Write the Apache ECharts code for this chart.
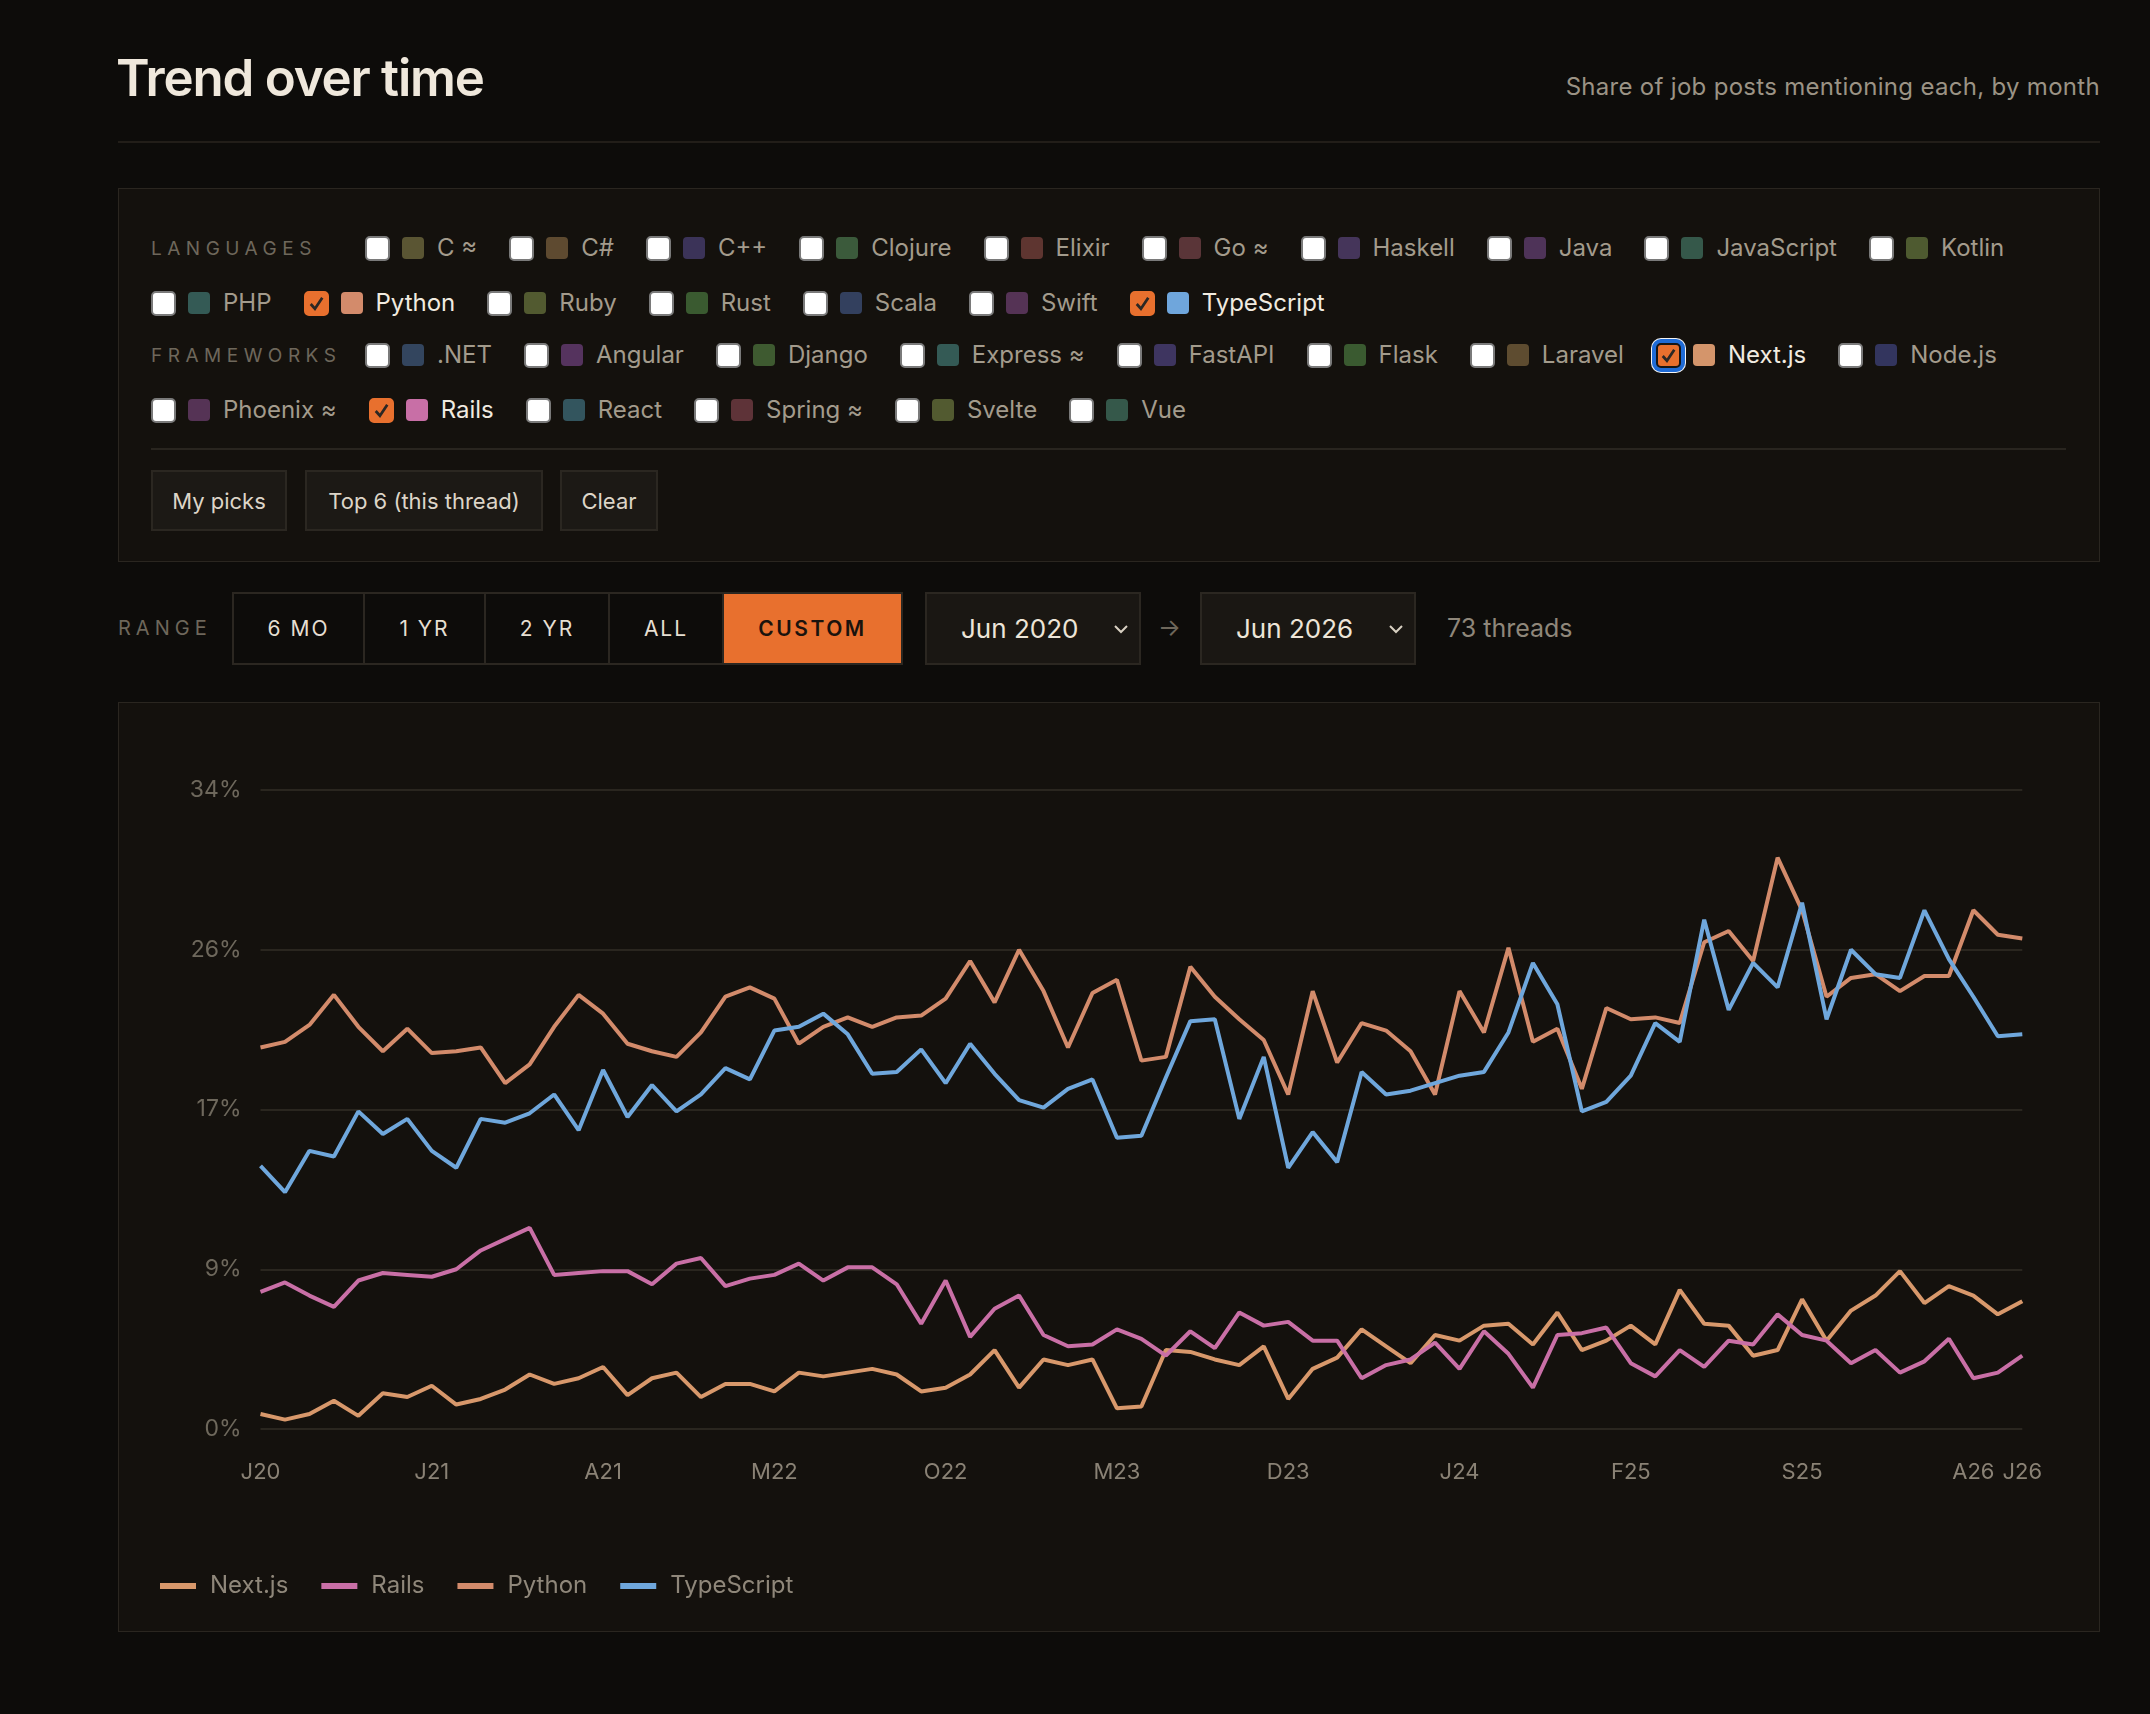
<!DOCTYPE html>
<html>
<head>
<meta charset="utf-8">
<title>Trend over time</title>
<script src="https://cdn.jsdelivr.net/npm/echarts@6/dist/echarts.min.js"></script>
<style>
  html, body { margin: 0; padding: 0; }
  body {
    width: 2150px; height: 1714px; position: relative; overflow: hidden;
    background: #0d0c0a; color: #a39b8c;
    font-family: Inter, 'Noto Sans', sans-serif;
  }
  .title { position: absolute; left: 116px; top: 46px; line-height: 64px; font-size: 51px; font-weight: 600; letter-spacing: -1.2px; color: #efe8dc; }
  .subtitle { position: absolute; right: 50px; top: 72px; line-height: 30px; font-size: 24px; letter-spacing: 0.3px; color: #9b9385; }
  .hr { position: absolute; left: 118px; top: 141px; width: 1982px; height: 2px; background: #221e19; }

  .panel { position: absolute; left: 118px; width: 1982px; box-sizing: border-box; background: #14110d; border: 1px solid #2a2620; }
  .filters { top: 188px; height: 374px; }
  .row { position: absolute; left: 32px; height: 40px; display: flex; align-items: center; white-space: nowrap; }
  .glabel { width: 214px; font-size: 19px; letter-spacing: 5.5px; color: #6e675b; }
  .item { display: flex; align-items: center; margin-right: 32px; }
  .item input {
    -webkit-appearance: none; appearance: none; width: 25px; height: 25px; margin: 0; box-sizing: border-box;
    background: #fff; border: 2px solid #7a7a7a; border-radius: 5px;
  }
  .item input:checked {
    background: #e8702e url("data:image/svg+xml,%3Csvg xmlns='http://www.w3.org/2000/svg' viewBox='0 0 20 20'%3E%3Cpolyline points='4.5,10.5 8.5,15 15.5,4.5' fill='none' stroke='%232b2724' stroke-width='2.6'/%3E%3C/svg%3E") center/100% no-repeat;
    border-color: #e8702e;
  }
  .item .sw { width: 22px; height: 22px; border-radius: 4px; margin-left: 12px; margin-right: 13px; }
  .item .txt { font-size: 24px; line-height: 40px; color: #a39b8c; }
  .item.on .txt { color: #f1ebe0; }
  .item.focus input { border: 2px solid #161616; box-shadow: 0 0 0 4px #1f6bd6, 0 0 0 5px #f4f4f4; }
  .divider { position: absolute; left: 32px; top: 259px; width: 1915px; height: 2px; background: #29251f; }
  .btns { position: absolute; left: 32px; top: 281px; display: flex; }
  .btn { height: 61px; box-sizing: border-box; border: 2px solid #2b2721; background: #1c1915; color: #ddd5c8;
         font-size: 22px; display: flex; align-items: center; justify-content: center; margin-right: 18px; }

  .range-label { position: absolute; left: 118px; top: 613px; line-height: 30px; font-size: 20px; letter-spacing: 5px; color: #6e675b; }
  .seg { position: absolute; left: 232px; top: 592px; height: 73px; display: flex; box-sizing: border-box; border: 2px solid #2b2721; }
  .seg div { display: flex; align-items: center; justify-content: center; font-size: 21px; letter-spacing: 2px; color: #e6dfd2; border-right: 2px solid #2b2721; box-sizing: border-box; }
  .seg div:last-child { border-right: none; }
  .seg .active { background: #e8702e; color: #1a130d; font-weight: 600; letter-spacing: 2.5px; }
  .dd { position: absolute; top: 592px; height: 73px; box-sizing: border-box; border: 2px solid #2b2721; background: #1a1713;
        display: flex; align-items: center; padding-left: 34px; font-size: 26px; color: #ede5d8; }
  .dd svg { position: absolute; right: 10px; top: 30px; }
  .arrow { position: absolute; left: 1158px; top: 612px; font-size: 24px; line-height: 32px; color: #6e675b; }
  .threads { position: absolute; left: 1447px; top: 612px; font-size: 25px; line-height: 32px; color: #8f877a; }

  .chartbox { top: 702px; height: 930px; }
  #chart { position: absolute; left: 0; top: 0; width: 1980px; height: 928px; }
</style>
</head>
<body>
<div class="title">Trend over time</div>
<div class="subtitle">Share of job posts mentioning each, by month</div>
<div class="hr"></div>

<div class="panel filters">
  <div class="row" id="row1" style="top:39px"><div class="glabel">LANGUAGES</div></div>
  <div class="row" id="row2" style="top:94px"></div>
  <div class="row" id="row3" style="top:146px"><div class="glabel">FRAMEWORKS</div></div>
  <div class="row" id="row4" style="top:201px"></div>
  <div class="divider"></div>
  <div class="btns">
    <div class="btn" style="width:136px">My picks</div>
    <div class="btn" style="width:238px;margin-right:17px">Top 6 (this thread)</div>
    <div class="btn" style="width:98px">Clear</div>
  </div>
</div>

<div class="range-label">RANGE</div>
<div class="seg">
  <div style="width:131px">6 MO</div>
  <div style="width:121px">1 YR</div>
  <div style="width:124px">2 YR</div>
  <div style="width:114px">ALL</div>
  <div class="active" style="width:177px">CUSTOM</div>
</div>
<div class="dd" style="left:925px;width:216px">Jun 2020<svg width="16" height="10" viewBox="0 0 16 10"><polyline points="2,2 8,8 14,2" fill="none" stroke="#d8d0c2" stroke-width="2"/></svg></div>
<div class="arrow">→</div>
<div class="dd" style="left:1200px;width:216px">Jun 2026<svg width="16" height="10" viewBox="0 0 16 10"><polyline points="2,2 8,8 14,2" fill="none" stroke="#d8d0c2" stroke-width="2"/></svg></div>
<div class="threads">73 threads</div>

<div class="panel chartbox"><div id="chart"></div></div>

<script>
// picker rows: [name, swatch colour, checked, focused]
const languagesRow1 = [['C ≈', '#5a5533'], ['C#', '#5e4a30'], ['C++', '#3b3358'], ['Clojure', '#3b5a3b'], ['Elixir', '#5e3530'],
  ['Go ≈', '#5a3538'], ['Haskell', '#45355a'], ['Java', '#4e3358'], ['JavaScript', '#35584a'], ['Kotlin', '#4e5a30']];
const languagesRow2 = [['PHP', '#345a55'], ['Python', '#d38b6b', true], ['Ruby', '#525a30'], ['Rust', '#3a5a30'],
  ['Scala', '#33405e'], ['Swift', '#553355'], ['TypeScript', '#6fa6dc', true]];
const frameworksRow1 = [['.NET', '#33455e'], ['Angular', '#55335e'], ['Django', '#3e5a30'], ['Express ≈', '#345a55'],
  ['FastAPI', '#3e3560'], ['Flask', '#3a5a30'], ['Laravel', '#5e4c30'], ['Next.js', '#d4956b', true, true], ['Node.js', '#33355e']];
const frameworksRow2 = [['Phoenix ≈', '#553355'], ['Rails', '#c86fa6', true], ['React', '#33555e'], ['Spring ≈', '#5e3338'],
  ['Svelte', '#525a30'], ['Vue', '#35584a']];

function fillRow(id, items) {
  const row = document.getElementById(id);
  items.forEach(([name, col, on, focus]) => {
    const el = document.createElement('label');
    el.className = 'item' + (on ? ' on' : '') + (focus ? ' focus' : '');
    el.innerHTML = '<input type="checkbox"' + (on ? ' checked' : '') + '><span class="sw" style="background:' + col +
      '"></span><span class="txt">' + name + '</span>';
    row.appendChild(el);
  });
}
fillRow('row1', languagesRow1);
fillRow('row2', languagesRow2);
fillRow('row3', frameworksRow1);
fillRow('row4', frameworksRow2);

// months Jun 2020 .. Jun 2026
const monthNames = ['Jan', 'Feb', 'Mar', 'Apr', 'May', 'Jun', 'Jul', 'Aug', 'Sep', 'Oct', 'Nov', 'Dec'];
const months = [];
for (let i = 0; i < 73; i++) {
  const m = (5 + i) % 12, y = 2020 + Math.floor((5 + i) / 12);
  months.push(monthNames[m] + ' ' + y);
}

const seriesNames = ['Next.js', 'Rails', 'Python', 'TypeScript'];
const seriesColors = ['#d8986b', '#c96fa6', '#d38b6b', '#6fa7dc'];

const nextjs = [0.8, 0.5, 0.8, 1.5, 0.7, 1.9, 1.7, 2.3, 1.3, 1.6, 2.1, 2.9, 2.4, 2.7, 3.3, 1.8, 2.7, 3.0, 1.7, 2.4, 2.4, 2.0, 3.0, 2.8, 3.0,
  3.2, 2.9, 2.0, 2.2, 2.9, 4.2, 2.2, 3.7, 3.4, 3.7, 1.1, 1.2, 4.2, 4.1, 3.7, 3.4, 4.4, 1.6, 3.2, 3.8, 5.3, 4.4, 3.5, 5.0,
  4.7, 5.5, 5.6, 4.5, 6.2, 4.2, 4.7, 5.5, 4.5, 7.4, 5.6, 5.5, 3.9, 4.2, 6.9, 4.7, 6.3, 7.1, 8.4, 6.7, 7.6, 7.1, 6.1, 6.8];
const rails = [7.3, 7.8, 7.1, 6.5, 7.9, 8.3, 8.2, 8.1, 8.5, 9.5, 10.1, 10.7, 8.2, 8.3, 8.4, 8.4, 7.7, 8.8, 9.1, 7.6, 8.0, 8.2, 8.8, 7.9, 8.6,
  8.6, 7.7, 5.6, 7.9, 4.9, 6.4, 7.1, 5.0, 4.4, 4.5, 5.3, 4.8, 3.9, 5.2, 4.3, 6.2, 5.5, 5.7, 4.7, 4.7, 2.7, 3.4, 3.7, 4.6,
  3.2, 5.2, 4.0, 2.2, 5.0, 5.1, 5.4, 3.5, 2.8, 4.2, 3.3, 4.7, 4.5, 6.1, 5.0, 4.7, 3.5, 4.2, 3.0, 3.6, 4.8, 2.7, 3.0, 3.9];
const python = [20.3, 20.6, 21.5, 23.1, 21.4, 20.1, 21.3, 20.0, 20.1, 20.3, 18.4, 19.4, 21.4, 23.1, 22.1, 20.5, 20.1, 19.8, 21.1, 23.0, 23.5, 22.9, 20.5, 21.4, 21.9,
  21.4, 21.9, 22.0, 22.9, 24.9, 22.7, 25.5, 23.3, 20.3, 23.2, 23.9, 19.6, 19.8, 24.6, 23.0, 21.8, 20.7, 17.8, 23.3, 19.5, 21.6, 21.2, 20.1, 17.8,
  23.3, 21.1, 25.6, 20.6, 21.3, 18.1, 22.4, 21.8, 21.9, 21.6, 25.9, 26.5, 24.9, 30.4, 27.6, 23.0, 24.0, 24.2, 23.3, 24.1, 24.1, 27.6, 26.3, 26.1];
const typescript = [14.0, 12.6, 14.8, 14.5, 16.9, 15.7, 16.5, 14.8, 13.9, 16.5, 16.3, 16.8, 17.8, 15.9, 19.1, 16.6, 18.3, 16.9, 17.8, 19.2, 18.6, 21.2, 21.4, 22.1, 21.0,
  18.9, 19.0, 20.2, 18.4, 20.5, 18.9, 17.5, 17.1, 18.1, 18.6, 15.5, 15.6, 18.7, 21.7, 21.8, 16.5, 19.8, 13.9, 15.8, 14.2, 19.0, 17.8, 18.0, 18.4,
  18.8, 19.0, 21.1, 24.8, 22.6, 16.9, 17.4, 18.8, 21.6, 20.6, 27.1, 22.3, 24.8, 23.5, 28.0, 21.8, 25.5, 24.2, 24.0, 27.6, 25.0, 23.0, 20.9, 21.0];
const seriesData = [nextjs, rails, python, typescript];

const yMax = 34;
const yStep = 8.5;
const tickEvery = 7;

var myChart = echarts.init(document.getElementById('chart'), null, { renderer: 'canvas' });

const option = {
  animation: false,
  textStyle: { fontFamily: 'Inter' },
  grid: { left: 141.5, right: 76.7, top: 87, bottom: 202, outerBoundsMode: 'none' },
  legend: {
    left: 36, top: 866,
    icon: 'rect', itemWidth: 36, itemHeight: 6, itemGap: 33,
    data: seriesNames,
    textStyle: { color: '#8f877a', fontSize: 24, padding: [0, 0, 0, 9] }
  },
  xAxis: {
    type: 'category',
    data: months,
    boundaryGap: false,
    axisLine: { show: false },
    axisTick: { show: false },
    axisLabel: {
      color: '#8a8275', fontSize: 22, margin: 32,
      interval: (i) => i % tickEvery === 0 || i === months.length - 1,
      formatter: (v) => v.charAt(0) + v.slice(-2)
    }
  },
  yAxis: {
    type: 'value',
    min: 0, max: yMax, interval: yStep,
    axisLine: { show: false },
    axisTick: { show: false },
    axisLabel: { color: '#6e685c', fontSize: 23, margin: 19, formatter: (v) => Math.round(v) + '%' },
    splitLine: { lineStyle: { color: '#2a261f', width: 2 } }
  },
  series: seriesNames.map((name, k) => ({
    name: name,
    type: 'line',
    data: seriesData[k],
    color: seriesColors[k],
    showSymbol: false,
    symbol: 'none',
    lineStyle: { width: 4, color: seriesColors[k] },
    emphasis: { disabled: true }
  }))
};

myChart.setOption(option);
window.addEventListener('resize', myChart.resize);
</script>
</body>
</html>
